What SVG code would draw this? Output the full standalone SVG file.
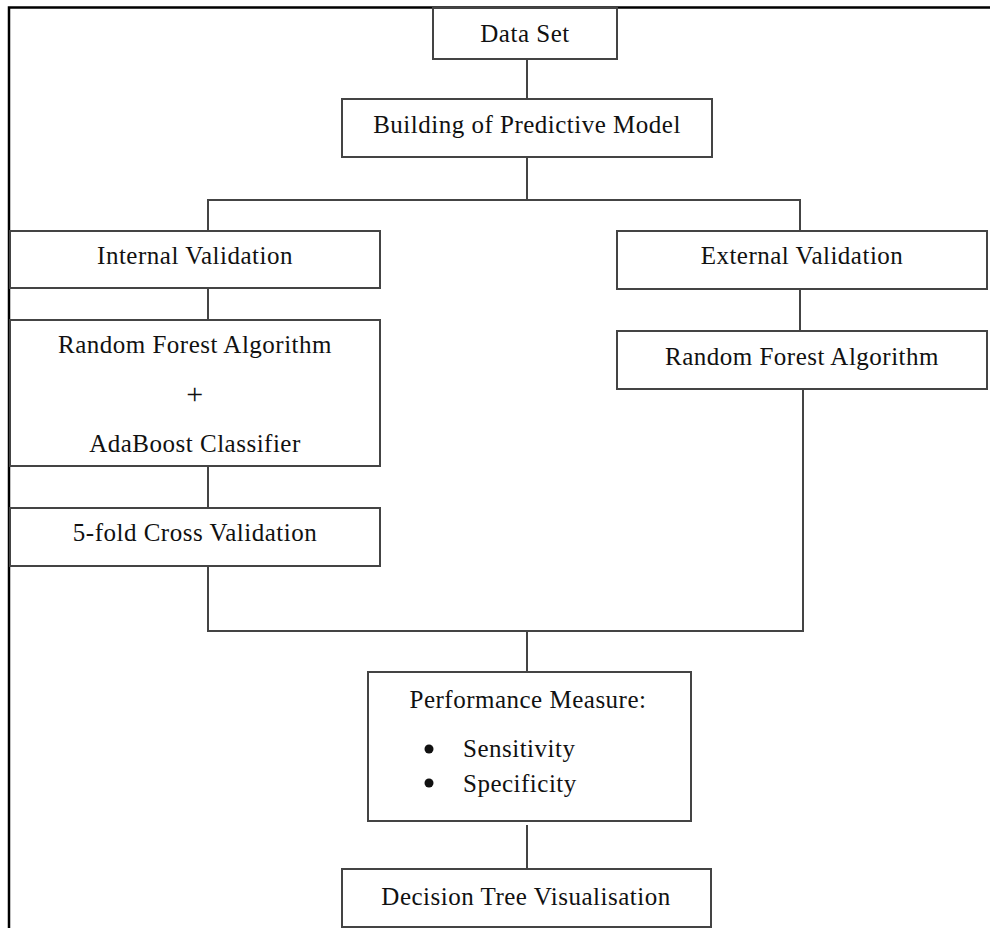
<svg xmlns="http://www.w3.org/2000/svg" width="990" height="928" viewBox="0 0 990 928">
  <style>
    .box { fill: #ffffff; stroke: #444444; stroke-width: 2; }
    .link { fill: none; stroke: #444444; stroke-width: 2; }
    .frame { fill: none; stroke: #000000; stroke-width: 2.5; }
    .label { font-family: "Liberation Serif", "Times New Roman", serif; font-size: 25px; letter-spacing: 0.5px; fill: #111111; text-anchor: middle; }
    .item { font-family: "Liberation Serif", "Times New Roman", serif; font-size: 25px; letter-spacing: 0.5px; fill: #111111; }
    .plus { font-size: 30px; }
  </style>
  <rect x="0" y="0" width="990" height="928" fill="#ffffff"/>

  <!-- page frame: top and left rules -->
  <path class="frame" d="M9,928 V7.5 H990"/>

  <!-- connectors -->
  <g id="connectors">
    <path class="link" d="M527,59 V99"/>
    <path class="link" d="M527,157 V200"/>
    <path class="link" d="M208,231 V200 H800 V231"/>
    <path class="link" d="M208,288 V320"/>
    <path class="link" d="M800,289 V331"/>
    <path class="link" d="M208,466 V508"/>
    <path class="link" d="M208,566 V631 H803 V389"/>
    <path class="link" d="M527,631 V672"/>
    <path class="link" d="M527,825 V869"/>
  </g>

  <g id="data-set">
    <rect class="box" x="433" y="8" width="184" height="51"/>
    <text class="label" x="525" y="42">Data Set</text>
  </g>

  <g id="building-model">
    <rect class="box" x="342" y="99" width="370" height="58"/>
    <text class="label" x="527" y="133">Building of Predictive Model</text>
  </g>

  <g id="internal-validation">
    <rect class="box" x="10" y="231" width="370" height="57"/>
    <text class="label" x="195" y="264">Internal Validation</text>
  </g>

  <g id="external-validation">
    <rect class="box" x="617" y="231" width="370" height="58"/>
    <text class="label" x="802" y="264">External Validation</text>
  </g>

  <g id="rf-adaboost">
    <rect class="box" x="10" y="320" width="370" height="146"/>
    <text class="label" x="195" y="353">Random Forest Algorithm</text>
    <text class="label plus" x="195" y="404">+</text>
    <text class="label" x="195" y="452">AdaBoost Classifier</text>
  </g>

  <g id="rf-external">
    <rect class="box" x="617" y="331" width="370" height="58"/>
    <text class="label" x="802" y="365">Random Forest Algorithm</text>
  </g>

  <g id="cross-validation">
    <rect class="box" x="10" y="508" width="370" height="58"/>
    <text class="label" x="195" y="541">5-fold Cross Validation</text>
  </g>

  <g id="performance-measure">
    <rect class="box" x="368" y="672" width="323" height="149"/>
    <text class="label" x="528" y="708">Performance Measure:</text>
    <circle cx="429" cy="749" r="4.5" fill="#111111"/>
    <text class="item" x="463" y="757">Sensitivity</text>
    <circle cx="429" cy="783" r="4.5" fill="#111111"/>
    <text class="item" x="463" y="792">Specificity</text>
  </g>

  <g id="decision-tree">
    <rect class="box" x="342" y="869" width="369" height="58"/>
    <text class="label" x="526" y="905">Decision Tree Visualisation</text>
  </g>
</svg>
